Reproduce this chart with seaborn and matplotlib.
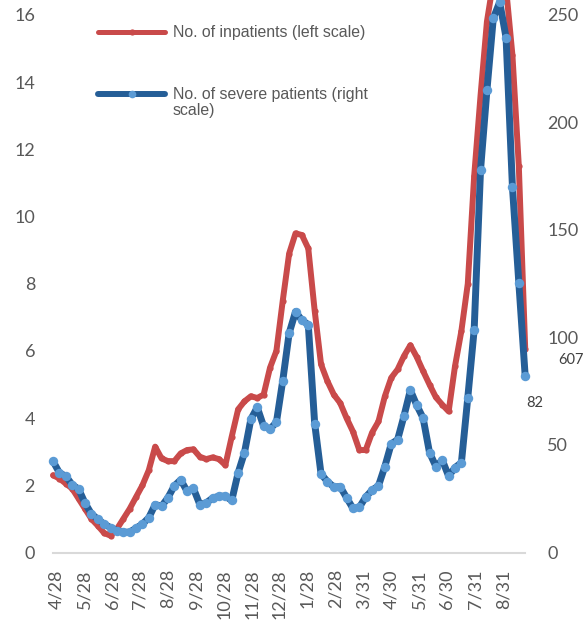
import pandas as pd
import matplotlib.pyplot as plt
from matplotlib.lines import Line2D
import seaborn as sns

# weekly values, 2020-04-24 .. 2021-09-24
start_date = "2020-04-24"
inpatients = [2.3, 2.2, 2.05, 1.9, 1.6, 1.3, 1.0, 0.8, 0.58, 0.5,
              0.7, 1.0, 1.3, 1.65, 2.0, 2.45, 3.15, 2.8, 2.72, 2.72,
              2.95, 3.05, 3.07, 2.85, 2.78, 2.83, 2.78, 2.6, 3.45, 4.26,
              4.5, 4.65, 4.6, 4.7, 5.5, 6.0, 7.5, 8.9, 9.5, 9.45,
              9.05, 7.2, 5.6, 5.1, 4.7, 4.45, 4.0, 3.6, 3.05, 3.05,
              3.57, 3.9, 4.65, 5.2, 5.45, 5.85, 6.17, 5.82, 5.4, 5.0,
              4.62, 4.4, 4.2, 5.55, 6.6, 8.0, 11.2, 13.6, 15.8, 17.0,
              17.5, 16.8, 14.8, 11.5, 6.07]
severe = [42.4, 37, 35.5, 31.5, 29.5, 23, 18, 15.5, 13.2, 11.6,
          10.2, 9.4, 9.5, 11.3, 13.2, 16.2, 22.3, 21.5, 25.5, 31,
          33.8, 28.5, 29.8, 22.3, 23.1, 25.3, 26.2, 26.2, 24.2, 37,
          46.5, 62, 67.5, 58.7, 57.5, 60.5, 80, 102, 112, 108,
          106, 60, 36.5, 33, 30.5, 30.6, 25.5, 20.5, 21, 25.8,
          29, 31, 40, 50.5, 52.5, 63.5, 75.5, 68.5, 62.5, 46.5,
          40, 43, 35.5, 39.5, 41.8, 72, 103.6, 178, 215, 248.5,
          256, 239.5, 170, 125.5, 82]

tick_dates = ["2020-04-28", "2020-05-28", "2020-06-28", "2020-07-28", "2020-08-28",
              "2020-09-28", "2020-10-28", "2020-11-28", "2020-12-28", "2021-01-28",
              "2021-02-28", "2021-03-31", "2021-04-30", "2021-05-31", "2021-06-30",
              "2021-07-31", "2021-08-31"]
tick_labels = ["4/28", "5/28", "6/28", "7/28", "8/28", "9/28", "10/28", "11/28", "12/28",
               "1/28", "2/28", "3/31", "4/30", "5/31", "6/30", "7/31", "8/31"]

dates = pd.date_range(start_date, periods=len(inpatients), freq="7D")
df = pd.DataFrame({"date": dates, "inpatients": inpatients, "severe": severe})

RED = "#C94A4A"
BLUE = "#255E97"
BLUE_DOT = "#5B9BD5"
GREY = "#595959"

sns.set_style("white")
plt.rcParams["font.family"] = ["Lato", "DejaVu Sans"]

W, H = 583, 627
fig = plt.figure(figsize=(W / 100, H / 100), dpi=100)
ax = fig.add_axes([53.1 / W, 1 - 552.5 / H, (525.2 - 53.1) / W, (552.5 - 15) / H])
ax2 = ax.twinx()

sns.lineplot(data=df, x="date", y="inpatients", ax=ax, color=RED, linewidth=4.3,
             marker="o", markersize=4.5, markeredgewidth=0, legend=False)
sns.lineplot(data=df, x="date", y="severe", ax=ax2, color=BLUE, linewidth=5,
             marker="o", markersize=6.8, markeredgewidth=0,
             markerfacecolor=BLUE_DOT, legend=False)
for ln in ax.lines + ax2.lines:
    ln.set_clip_on(False)
    ln.set_solid_capstyle("round")
    ln.set_solid_joinstyle("round")

ax.set_xlim(dates[0], dates[-1])
ax.set_ylim(0, 16)
ax2.set_ylim(0, 250)
ax.set_yticks(range(0, 17, 2))
ax2.set_yticks(range(0, 251, 50))
ax.set_xticks(pd.to_datetime(tick_dates))
ax.set_xticklabels(tick_labels, rotation=90)
ax.set_xlabel("")
ax.set_ylabel("")
ax2.set_ylabel("")

ax.tick_params(axis="x", length=0, colors=GREY, labelsize=13, pad=12)
ax.tick_params(axis="y", length=0, colors=GREY, labelsize=13, pad=13)
ax2.tick_params(axis="y", length=0, colors=GREY, labelsize=13, pad=16)

for a in (ax, ax2):
    for s in a.spines.values():
        s.set_visible(False)
ax.spines["bottom"].set_visible(True)
ax.spines["bottom"].set_color("#D9D9D9")
ax.spines["bottom"].set_linewidth(1.5)

# data labels at the last week
ax2.annotate(f"{severe[-1]:.0f}", (dates[-1], severe[-1]), xytext=(7, -19),
             textcoords="offset points", ha="center", va="center",
             fontsize=10.5, color="#404040")
ax.annotate(f"{inpatients[-1] * 100:.0f}", (dates[-1], inpatients[-1]), xytext=(23.5, -8),
            textcoords="offset points", ha="left", va="center",
            fontsize=10.5, color="#404040", annotation_clip=False)

# legend drawn by hand so the blue key sits on the first text line
def fx(px):
    return px / W

def fy(py):
    return 1 - py / H

leg_font = dict(family=["Liberation Sans", "DejaVu Sans"], fontsize=11.4, color=GREY)
fig.add_artist(Line2D([fx(98), fx(165)], [fy(32.3)] * 2, color=RED, lw=3.6,
                      solid_capstyle="round", transform=fig.transFigure))
fig.add_artist(Line2D([fx(131.7)], [fy(32.3)], color=RED, marker="o", markersize=4.5,
                      markeredgewidth=0, transform=fig.transFigure))
fig.text(fx(173), fy(32.3), "No. of inpatients (left scale)", ha="left", va="center", **leg_font)

fig.add_artist(Line2D([fx(98), fx(165)], [fy(94.3)] * 2, color=BLUE, lw=4.3,
                      solid_capstyle="round", transform=fig.transFigure))
fig.add_artist(Line2D([fx(131.7)], [fy(94.3)], color=BLUE_DOT, marker="o", markersize=5.5,
                      markeredgewidth=0, transform=fig.transFigure))
fig.text(fx(173), fy(102.5), "No. of severe patients (right\nscale)", ha="left", va="center",
         linespacing=1.15, **leg_font)

fig.savefig("out.png", dpi=100)
